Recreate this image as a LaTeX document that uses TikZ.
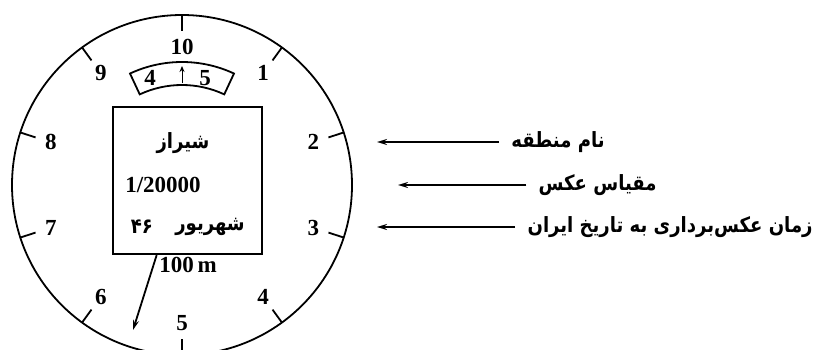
\documentclass[tikz,border=0pt]{standalone}
\usepackage{fontspec}
\setmainfont{Liberation Serif}
\newfontfamily\farsi[Script=Arabic, FakeStretch=0.86]{DejaVu Sans}
\TeXXeTstate=1
\usetikzlibrary{arrows.meta,positioning,calc}

\begin{document}
\begin{tikzpicture}[x=0.5pt, y=0.5pt, font=\bfseries\fontsize{11.5}{13}\selectfont,
  dial/.style={line width=0.9pt},
  pointer/.style={line width=0.9pt, -{Stealth[length=5pt,width=3pt]}},
  fa/.style={font=\farsi\bfseries\fontsize{10.5}{12}\selectfont, inner sep=0pt}]
\useasboundingbox (0,0) rectangle (817,349);
% ---- dial ring, ten ticks and their numbers ----
\coordinate (ctr) at (182,164);
\draw[dial] (ctr) circle[radius=170];
\foreach \k in {0,...,9}{
  \draw[dial] ($(ctr)+(90-36*\k:170)$) -- ($(ctr)+(90-36*\k:154)$);}
\foreach \k/\lab in {0/10,1/1,2/2,3/3,4/4,5/5,6/6,7/7,8/8,9/9}
  \node (num\k) at ($(ctr)+(90-36*\k:138)$) {\lab};
% ---- north window ----
\draw[dial] ($(ctr)+(65:123)$) arc[start angle=65, end angle=115, radius=123]
  -- ($(ctr)+(115:100)$) arc[start angle=115, end angle=65, radius=100] -- cycle;
\node (winL) at (150,271) {4};
\node (winR) at (205,271) {5};
\coordinate (nbase) at (182,266);
\coordinate (ntip) at (182,283);
\draw[line width=0.5pt, -{Stealth[length=3pt,width=2.5pt]}] (nbase) -- (ntip);
% ---- title block ----
\node[draw, line width=1.1pt, minimum width=74.5pt, minimum height=73.5pt,
  inner sep=0pt] (frame) at (187.5,168.5) {};
\node[fa] (city) at (183,206) {\beginR شیراز\endR};
\node (ratio) at (163,164) {1/20000};
\node[fa] (year) at (142,122) {\beginR ۴۶\endR};
\node[fa] (month) at (210,122) {\beginR شهریور\endR};
% ---- flying height ----
\node (alt) at (188,84) {100\,m};
\coordinate (foot) at ($(frame.south west)!0.296!(frame.south east)$);
\coordinate (drop) at (133,19);
\draw[pointer] (foot) -- (drop);
% ---- captions ----
\node[fa, anchor=east] (region) at (605,207) {\beginR نام منطقه\endR};
\node[fa, anchor=east] (scale) at (657,164) {\beginR مقیاس عکس\endR};
\node[fa, anchor=east] (when) at (813,122) {\beginR زمان عکس‌برداری به تاریخ ایران\endR};
\coordinate (tipA) at (377,207);
\coordinate (tipB) at (398,164);
\coordinate (tipC) at (377,122);
\draw[pointer, shorten <=6pt] (region.west) -- (tipA);
\draw[pointer, shorten <=6pt] (scale.west) -- (tipB);
\draw[pointer, shorten <=6pt] (when.west) -- (tipC);
\end{tikzpicture}
\end{document}
